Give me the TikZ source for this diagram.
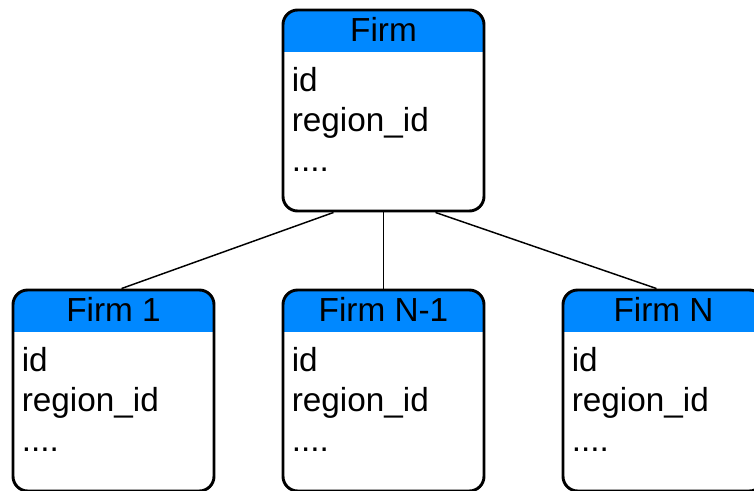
\documentclass[tikz,border=0pt]{standalone}
\usepackage{fontspec}
\setmainfont{Liberation Sans}
\usetikzlibrary{calc}
\definecolor{headblue}{RGB}{0,136,255}
\tikzset{
    firmbox/.style={draw, fill=white, line width=2.2pt, rounded corners=11pt,
        minimum width=150.75pt, minimum height=150.75pt, inner sep=0pt,
        path picture={\fill[headblue, sharp corners] (path picture bounding box.north west)
            rectangle ([yshift=-31.5pt]path picture bounding box.north east);}},
    headtext/.style={font=\fontsize{25}{30}\selectfont, inner sep=0pt, anchor=base},
    fieldlist/.style={font=\fontsize{25}{30}\selectfont, inner sep=0pt, align=left, anchor=base west},
    link/.style={line width=1.1pt}
}
\begin{document}
\begin{tikzpicture}[x=0.75pt, y=-0.75pt]
    \useasboundingbox (0,0) rectangle (754,490);
    \clip (0,0) rectangle (754,490);

    % place boxes
    \node[firmbox] at (383.5,110.5) (firm)   {};
    \node[firmbox] at (113.5,390.5) (firm1)  {};
    \node[firmbox] at (383.5,390.5) (firmn1) {};
    \node[firmbox] at (663.5,390.5) (firmn)  {};

    % headers
    \node[headtext] at ($(firm.north)+(0,33)$)   (firmhead)   {Firm};
    \node[headtext] at ($(firm1.north)+(0,33)$)  (firm1head)  {Firm 1};
    \node[headtext] at ($(firmn1.north)+(0,33)$) (firmn1head) {Firm N-1};
    \node[headtext] at ($(firmn.north)+(0,33)$)  (firmnhead)  {Firm N};

    % fields (base = last line)
    \node[fieldlist] at ($(firm.north west)+(10,162.5)$)   (firmbody)   {id\\region\_id\\....};
    \node[fieldlist] at ($(firm1.north west)+(10,162.5)$)  (firm1body)  {id\\region\_id\\....};
    \node[fieldlist] at ($(firmn1.north west)+(10,162.5)$) (firmn1body) {id\\region\_id\\....};
    \node[fieldlist] at ($(firmn.north west)+(10,162.5)$)  (firmnbody)  {id\\region\_id\\....};

    % draw edges
    \draw[link] ($(firm.south)+(-50,0)$) -- ($(firm1.north)+(8,0)$);
    \draw[link] (firm.south) -- (firmn1.north);
    \draw[link] ($(firm.south)+(52,0)$) -- ($(firmn.north)+(-7,0)$);
\end{tikzpicture}
\end{document}
